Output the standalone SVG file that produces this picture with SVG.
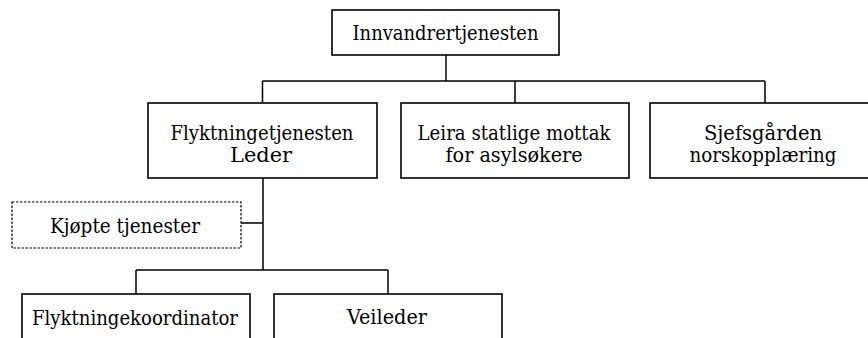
<svg xmlns="http://www.w3.org/2000/svg" width="868" height="338" viewBox="0 0 868 338">
<style>
.box{fill:#fff;stroke:#000;stroke-width:1.6}
.dash{fill:#fff;stroke:#000;stroke-width:1.2;stroke-dasharray:2.5 1.5}
.ln{fill:none;stroke:#000;stroke-width:1.5}
.t{font-family:'DejaVu Serif Condensed','DejaVu Serif',serif;font-stretch:condensed;font-size:20px;fill:#000;text-anchor:middle}
</style>
<g id="connectors">
<path class="ln" d="M446 55V81M262.5 81H765M262.5 81V103M515 81V103M765 81V103"/>
<path class="ln" d="M263 178V270M241 223H263M136 270H388M136 270V294M388 270V294"/>
</g>
<g id="innvandrertjenesten">
<rect class="box" x="332" y="10" width="227" height="45"/>
<text class="t" x="445.5" y="40" textLength="186" lengthAdjust="spacingAndGlyphs">Innvandrertjenesten</text>
</g>
<g id="flyktningetjenesten">
<rect class="box" x="148" y="103" width="229" height="75"/>
<text class="t" x="262" y="140" textLength="183" lengthAdjust="spacingAndGlyphs">Flyktningetjenesten</text>
<text class="t" x="261" y="162" textLength="62" lengthAdjust="spacingAndGlyphs">Leder</text>
</g>
<g id="leira">
<rect class="box" x="401" y="103" width="228" height="75"/>
<text class="t" x="514" y="140" textLength="193" lengthAdjust="spacingAndGlyphs">Leira statlige mottak</text>
<text class="t" x="514" y="162" textLength="137" lengthAdjust="spacingAndGlyphs">for asylsøkere</text>
</g>
<g id="sjefsgarden">
<rect class="box" x="650" y="103" width="228" height="75"/>
<text class="t" x="763" y="140" textLength="118" lengthAdjust="spacingAndGlyphs">Sjefsgården</text>
<text class="t" x="763" y="162" textLength="147" lengthAdjust="spacingAndGlyphs">norskopplæring</text>
</g>
<g id="kjopte">
<rect class="dash" x="12" y="202" width="229" height="46"/>
<text class="t" x="125" y="233" textLength="150" lengthAdjust="spacingAndGlyphs">Kjøpte tjenester</text>
</g>
<g id="flyktningekoordinator">
<rect class="box" x="22" y="294" width="228" height="60"/>
<text class="t" x="135" y="325" textLength="206" lengthAdjust="spacingAndGlyphs">Flyktningekoordinator</text>
</g>
<g id="veileder">
<rect class="box" x="274" y="294" width="228" height="60"/>
<text class="t" x="387" y="324" textLength="80" lengthAdjust="spacingAndGlyphs">Veileder</text>
</g>
</svg>
